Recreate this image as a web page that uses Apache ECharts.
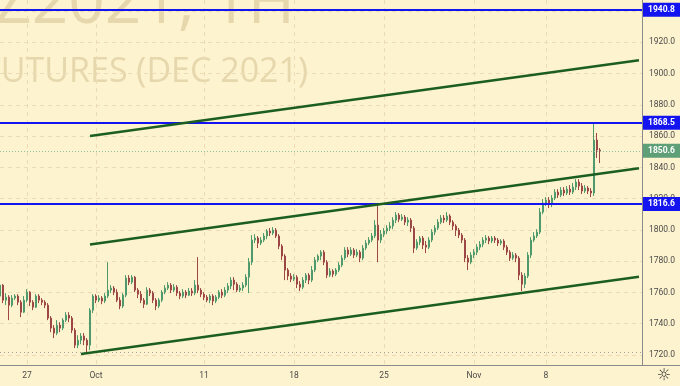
<!DOCTYPE html>
<html><head><meta charset="utf-8">
<script src="https://cdn.jsdelivr.net/npm/echarts@6/dist/echarts.min.js"></script>
<style>html,body{margin:0;padding:0;background:#fef3cf}#c{width:680px;height:386px}</style>
</head><body><div id="c"></div>
<script>
// [open, close, low, high]
const candles = [
[1757.7,1764.7,1755.7,1767.3],[1764.7,1755.1,1753.2,1765.3],[1755.1,1757.0,1751.9,1759.6],[1757.0,1751.9,1742.3,1758.3],
[1751.9,1756.4,1750.6,1758.3],[1756.4,1757.7,1755.1,1758.9],[1757.7,1753.8,1751.9,1758.9],[1753.8,1747.4,1744.2,1755.1],
[1747.4,1755.1,1746.8,1757.7],[1755.1,1760.2,1753.8,1762.1],[1760.2,1753.8,1751.3,1760.9],[1753.8,1750.6,1748.7,1755.1],
[1750.6,1757.7,1750.0,1758.9],[1757.7,1755.1,1753.2,1758.9],[1755.1,1753.8,1751.9,1756.4],[1753.8,1751.9,1750.0,1755.1],
[1751.9,1743.6,1742.3,1753.2],[1743.6,1737.2,1734.6,1744.9],[1737.2,1734.0,1730.8,1739.1],[1734.0,1739.1,1732.7,1742.3],
[1739.1,1737.2,1734.6,1741.0],[1737.2,1742.3,1735.9,1743.6],[1742.3,1745.5,1741.0,1747.4],[1745.5,1743.6,1741.0,1747.4],
[1743.6,1735.9,1734.0,1744.9],[1735.9,1726.3,1724.4,1737.2],[1726.3,1729.5,1724.4,1732.7],[1729.5,1732.1,1726.9,1734.0],
[1732.1,1729.5,1726.3,1734.0],[1729.5,1726.3,1721.7,1730.8],[1726.3,1748.7,1723.1,1750.0],[1748.7,1757.7,1746.8,1758.9],
[1757.7,1755.1,1753.2,1758.9],[1755.1,1756.4,1753.8,1758.3],[1756.4,1754.5,1752.5,1757.7],[1754.5,1757.7,1753.2,1759.6],
[1757.7,1761.5,1756.4,1779.4],[1761.5,1762.8,1759.6,1764.7],[1762.8,1760.2,1758.3,1764.1],[1760.2,1755.1,1753.8,1762.1],
[1755.1,1751.3,1749.3,1757.0],[1751.3,1758.3,1750.0,1759.6],[1758.3,1769.2,1757.0,1771.1],[1769.2,1766.6,1764.7,1771.1],
[1766.6,1769.8,1765.3,1771.1],[1769.8,1761.5,1760.2,1770.5],[1761.5,1758.9,1756.4,1762.8],[1758.9,1755.1,1753.2,1760.9],
[1755.1,1752.5,1750.0,1756.4],[1752.5,1761.5,1751.9,1763.4],[1761.5,1759.6,1757.7,1762.8],[1759.6,1755.1,1753.2,1760.9],
[1755.1,1751.3,1748.7,1756.4],[1751.3,1755.1,1750.0,1756.4],[1755.1,1760.2,1753.8,1761.5],[1760.2,1762.8,1758.9,1764.7],
[1762.8,1764.7,1761.5,1766.6],[1764.7,1761.5,1759.6,1766.0],[1761.5,1763.4,1760.2,1765.3],[1763.4,1759.6,1757.7,1764.7],
[1759.6,1757.7,1755.7,1760.9],[1757.7,1760.2,1756.4,1762.1],[1760.2,1758.3,1756.4,1761.5],[1758.3,1760.9,1757.7,1762.8],
[1760.9,1759.6,1757.7,1762.8],[1759.6,1764.7,1758.3,1767.9],[1764.7,1761.5,1759.6,1782.6],[1761.5,1758.9,1757.0,1762.8],
[1758.9,1757.0,1755.1,1760.2],[1757.0,1755.1,1753.8,1758.3],[1755.1,1757.7,1753.2,1758.9],[1757.7,1754.5,1751.9,1758.9],
[1754.5,1757.0,1753.2,1758.3],[1757.0,1760.2,1755.7,1761.5],[1760.2,1758.3,1756.4,1762.1],[1758.3,1761.5,1757.0,1763.4],
[1761.5,1764.1,1759.6,1766.0],[1764.1,1767.9,1762.1,1769.8],[1767.9,1765.3,1761.5,1769.8],[1765.3,1761.5,1760.2,1766.6],
[1761.5,1762.8,1760.2,1764.7],[1762.8,1764.7,1760.9,1766.6],[1764.7,1769.8,1763.4,1771.7],[1769.8,1779.4,1759.6,1782.0],
[1779.4,1793.5,1777.5,1796.7],[1793.5,1794.8,1791.6,1797.3],[1794.8,1791.6,1788.4,1796.1],[1791.6,1793.5,1790.3,1795.4],
[1793.5,1796.1,1792.2,1798.0],[1796.1,1799.3,1794.1,1800.5],[1799.3,1798.0,1796.1,1801.2],[1798.0,1799.9,1796.7,1801.8],
[1799.9,1796.1,1794.8,1801.2],[1796.1,1789.7,1787.7,1797.3],[1789.7,1783.3,1780.7,1790.9],[1783.3,1774.3,1767.9,1784.5],
[1774.3,1770.5,1767.9,1775.6],[1770.5,1768.5,1766.6,1772.4],[1768.5,1769.8,1767.3,1771.7],[1769.8,1765.3,1762.8,1771.1],
[1765.3,1763.4,1760.9,1767.3],[1763.4,1767.9,1762.1,1769.8],[1767.9,1771.1,1766.0,1772.4],[1771.1,1767.9,1765.3,1772.4],
[1767.9,1774.3,1766.6,1776.9],[1774.3,1780.7,1773.0,1782.6],[1780.7,1783.3,1779.4,1784.5],[1783.3,1785.8,1780.7,1787.1],
[1785.8,1779.4,1777.5,1787.1],[1779.4,1771.1,1769.2,1780.7],[1771.1,1773.7,1769.8,1775.6],[1773.7,1771.7,1769.8,1774.9],
[1771.7,1774.3,1770.5,1775.6],[1774.3,1777.5,1773.0,1779.4],[1777.5,1782.0,1776.2,1783.9],[1782.0,1787.1,1780.7,1789.0],
[1787.1,1784.5,1782.6,1789.0],[1784.5,1787.1,1783.3,1789.0],[1787.1,1783.9,1782.0,1788.4],[1783.9,1785.8,1782.6,1787.7],
[1785.8,1782.0,1779.4,1787.1],[1782.0,1788.4,1780.7,1790.3],[1788.4,1791.6,1787.1,1793.5],[1791.6,1793.5,1790.3,1795.4],
[1793.5,1796.1,1792.2,1798.0],[1796.1,1803.1,1794.8,1806.3],[1803.1,1793.5,1779.4,1816.6],[1793.5,1797.3,1791.6,1799.9],
[1797.3,1799.3,1795.4,1801.2],[1799.3,1801.2,1797.3,1803.1],[1801.2,1802.5,1799.3,1805.0],[1802.5,1806.3,1800.5,1808.2],
[1806.3,1809.5,1804.4,1811.4],[1809.5,1806.9,1805.0,1810.8],[1806.9,1808.2,1805.7,1810.1],[1808.2,1805.0,1803.1,1809.5],
[1805.0,1806.3,1802.5,1808.2],[1806.3,1801.2,1798.6,1807.6],[1801.2,1788.4,1785.2,1802.5],[1788.4,1792.2,1787.1,1794.1],
[1792.2,1794.8,1790.3,1796.1],[1794.8,1790.3,1787.7,1796.1],[1790.3,1789.0,1785.2,1792.9],[1789.0,1793.5,1787.7,1795.4],
[1793.5,1798.6,1792.2,1800.5],[1798.6,1801.2,1796.7,1803.1],[1801.2,1805.0,1799.9,1806.9],[1805.0,1807.6,1803.7,1809.5],
[1807.6,1806.3,1804.4,1809.5],[1806.3,1808.9,1805.0,1811.4],[1808.9,1805.0,1803.1,1810.1],[1805.0,1802.5,1799.9,1806.3],
[1802.5,1799.9,1796.1,1803.7],[1799.9,1796.7,1794.8,1801.2],[1796.7,1793.5,1791.6,1798.0],[1793.5,1782.0,1779.4,1794.8],
[1782.0,1779.4,1774.3,1783.9],[1779.4,1783.9,1778.1,1785.8],[1783.9,1785.8,1782.0,1787.7],[1785.8,1789.0,1783.9,1790.9],
[1789.0,1790.9,1787.1,1792.9],[1790.9,1793.5,1789.0,1795.4],[1793.5,1794.8,1791.6,1796.7],[1794.8,1792.9,1790.9,1796.1],
[1792.9,1794.8,1791.6,1796.1],[1794.8,1793.5,1791.6,1796.1],[1793.5,1791.6,1789.7,1794.8],[1791.6,1792.9,1790.3,1794.1],
[1792.9,1789.0,1787.1,1794.1],[1789.0,1785.8,1783.9,1790.3],[1785.8,1782.0,1780.1,1787.1],[1782.0,1783.9,1780.7,1785.8],
[1783.9,1782.0,1779.4,1785.2],[1782.0,1771.1,1767.9,1783.3],[1771.1,1765.3,1760.9,1773.0],[1765.3,1770.5,1762.8,1772.4],
[1770.5,1783.9,1769.2,1785.8],[1783.9,1793.5,1782.0,1795.4],[1793.5,1796.1,1792.2,1798.6],[1796.1,1798.6,1794.8,1800.5],
[1798.6,1811.4,1797.3,1814.0],[1811.4,1817.2,1810.1,1819.8],[1817.2,1819.1,1815.3,1821.0],[1819.1,1816.5,1814.0,1821.0],
[1816.5,1820.4,1814.6,1822.3],[1820.4,1824.2,1819.1,1826.1],[1824.2,1822.3,1820.4,1826.1],[1822.3,1825.5,1821.0,1827.4],
[1825.5,1823.6,1821.7,1827.4],[1823.6,1826.1,1822.3,1828.1],[1826.1,1824.2,1822.3,1828.7],[1824.2,1827.4,1823.0,1830.0],
[1827.4,1830.6,1825.5,1832.5],[1830.6,1828.1,1825.5,1832.5],[1828.1,1824.9,1823.0,1830.0],[1824.9,1826.8,1823.6,1828.7],
[1826.8,1824.9,1823.0,1828.1],[1824.9,1823.6,1821.0,1826.8],[1823.6,1857.5,1821.7,1868.5],[1857.5,1851.1,1846.0,1862.0],
[1851.1,1850.6,1842.8,1852.4]
];
const extraBars = 14;               // empty space to the right of the last bar
const dayLabels = ['27','Oct','11','18','25','Nov','8'];
const dayBars   = [9, 32, 68, 98, 128, 158, 182];
const yTicks = [1720, 1740, 1760, 1780, 1800, 1820, 1840, 1860, 1880, 1900, 1920, 1940];
const priceLevels = [1940.8, 1868.5, 1816.6];
const lastPrice = 1850.6;
const lowPrice = 1721.7;
// trend channel lines: [startBar, startValue, endBar, endValue]
const upperLine  = [30, 1860.1, 213, 1908.6];
const middleLine = [30, 1790.7, 213, 1839.5];
const lowerLine  = [27, 1720.6, 213, 1770.1];

const categories = [];
for (let i = 0; i < candles.length + extraBars; i++) categories.push(String(i));
const showTick = (idx) => dayBars.indexOf(idx) >= 0;
const labelFor = (idx) => { const k = dayBars.indexOf(idx); return k >= 0 ? dayLabels[k] : ''; };

const chart = echarts.init(document.getElementById('c'), null, {renderer: 'canvas'});
const lineSeries = (pts) => ({
  type: 'line', data: [[pts[0], pts[1]], [pts[2], pts[3]]], symbol: 'none', silent: true,
  lineStyle: {color: '#1b5e20', width: 2.5}, z: 5, animation: false
});
const lvlLabel = (bg) => ({show: true, position: 'end', distance: 1, color: '#fff', fontWeight: 'bold',
  fontSize: 8.5, fontFamily: 'Roboto', backgroundColor: bg,
  padding: [3, 6, 2, 5], formatter: p => p.value.toFixed(1)});
const axisFont = {color: '#4a4a4a', fontSize: 8.5, fontFamily: 'Roboto'};

chart.setOption({
  backgroundColor: '#fef3cf',
  animation: false,
  grid: {left: 0, right: 38, top: 0, bottom: 21},
  graphic: [
    {type: 'text', x: 295, y: 5, z: -1, style: {text: 'GCZ2021, 1H', align: 'right', verticalAlign: 'middle',
      font: '64px "Open Sans"', fill: '#e6d7ad'}},
    {type: 'text', x: 308, y: 72, z: -1, style: {text: 'GOLD FUTURES (DEC 2021)', align: 'right', verticalAlign: 'middle',
      font: '34px "Open Sans"', fill: '#e6d7ad'}},
    {type: 'line', shape: {x1: 642, y1: 365.5, x2: 680, y2: 365.5}, style: {stroke: '#8a8a8a', lineWidth: 1}},
    {type: 'text', x: 664, y: 376, style: {text: '☼', align: 'center', verticalAlign: 'middle', font: '16px "DejaVu Sans"', fill: '#333'}}
  ],
  xAxis: {
    type: 'category', data: categories, boundaryGap: false,
    axisLine: {show: true, lineStyle: {color: '#8a8a8a'}},
    axisTick: {show: false},
    axisLabel: Object.assign({interval: (i) => showTick(i), formatter: (v, i) => labelFor(i), margin: 6}, axisFont),
    splitLine: {show: true, interval: (i) => showTick(i), lineStyle: {color: '#ecdcb6', type: [4, 4]}}
  },
  yAxis: {
    type: 'value', position: 'right', min: 1713.6, max: 1947.1,
    axisLine: {show: true, lineStyle: {color: '#8a8a8a'}},
    axisTick: {show: false, customValues: yTicks},
    axisLabel: Object.assign({margin: 7, customValues: yTicks, formatter: v => v.toFixed(1)}, axisFont),
    splitLine: {show: true, lineStyle: {color: '#ecdcb6', type: [4, 4]}}
  },
  series: [
    {
      type: 'candlestick', data: candles, barWidth: 1.6, z: 3,
      itemStyle: {color: '#4f9a6c', color0: '#9c4646', borderColor: '#4f9a6c', borderColor0: '#9c4646', borderWidth: 1},
      markLine: {
        silent: true, symbol: 'none', animation: false,
        data: [
          {yAxis: lowPrice, lineStyle: {color: '#a0a0a0', type: [1, 3], width: 1}, label: {show: false}},
          {yAxis: lastPrice, lineStyle: {color: '#8fbf9c', type: [1, 2], width: 1}, label: lvlLabel('#5f9f77')},
          ...priceLevels.map(v => ({yAxis: v, lineStyle: {color: '#1414f0', type: 'solid', width: 2}, label: lvlLabel('#1414f0')}))
        ]
      }
    },
    lineSeries(upperLine), lineSeries(middleLine), lineSeries(lowerLine)
  ]
});
</script></body></html>
